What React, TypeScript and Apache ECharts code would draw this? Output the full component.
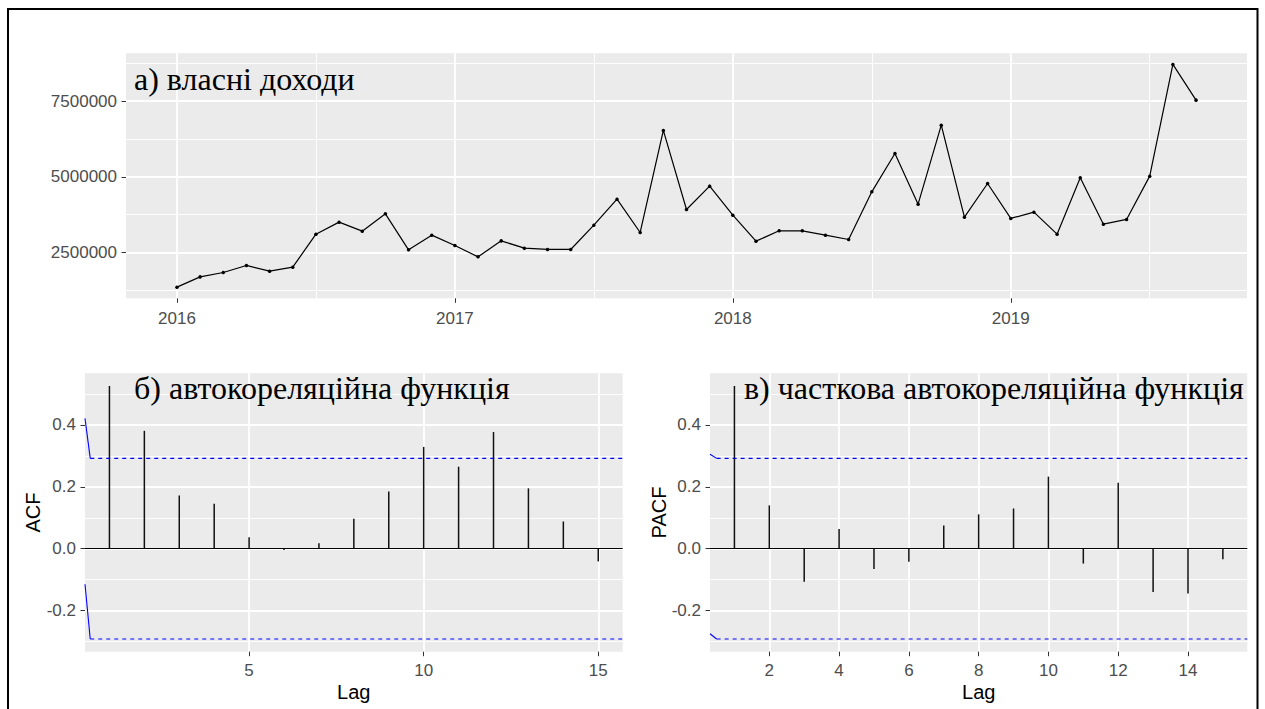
import React, { useEffect, useRef } from "react";
import * as echarts from "echarts";

// ---------- data ----------
const startYear = 2016;
const ownIncome = [
  1354000, 1694000, 1839000, 2071000, 1882000, 2015000, 3104000, 3501000, 3203000, 3775000, 2586000, 3071000,
  2731000, 2355000, 2883000, 2642000, 2599000, 2599000, 3402000, 4260000, 3160000, 6529000, 3920000, 4690000,
  3732000, 2873000, 3215000, 3215000, 3071000, 2929000, 4502000, 5769000, 4095000, 6704000, 3666000, 4778000,
  3623000, 3831000, 3104000, 4964000, 3435000, 3590000, 5020000, 8709000, 7530000,
];
const yearTicks = [2016, 2017, 2018, 2019];
const yearMinorTicks = [2016.5, 2017.5, 2018.5, 2019.5];
const incomeTicks = [2500000, 5000000, 7500000];
const incomeMinorTicks = [1250000, 3750000, 6250000, 8750000];

const lags = [1, 2, 3, 4, 5, 6, 7, 8, 9, 10, 11, 12, 13, 14, 15];
const acfValues = [0.526, 0.381, 0.172, 0.145, 0.037, -0.004, 0.018, 0.097, 0.185, 0.329, 0.265, 0.377, 0.195, 0.088, -0.041];
const pacfValues = [0.526, 0.14, -0.107, 0.064, -0.066, -0.042, 0.075, 0.111, 0.13, 0.233, -0.048, 0.213, -0.14, -0.145, -0.034];
const ciLimit = 0.292;
const acfLagTicks = [5, 10, 15];
const pacfLagTicks = [2, 4, 6, 8, 10, 12, 14];
const corrTicks = [-0.2, 0.0, 0.2, 0.4];
const corrMinorTicks = [-0.3, -0.1, 0.1, 0.3, 0.5];
// blue confidence-band start pieces (solid) [lag, value]
const acfCiUpperStart = [[0.3, 0.421], [0.45, 0.292]];
const acfCiLowerStart = [[0.3, -0.115], [0.45, -0.292]];
const pacfCiUpperStart = [[0.3, 0.305], [0.49, 0.292]];
const pacfCiLowerStart = [[0.3, -0.275], [0.49, -0.292]];

const titleA = "а) власні доходи";
const titleB = "б) автокореляційна функція";
const titleC = "в) часткова автокореляційна функція";

// ---------- helpers ----------
const SANS = "'Liberation Sans', Arial, Helvetica, sans-serif";
const SERIF = "'Liberation Serif', 'Times New Roman', serif";
const PANEL = "#EBEBEB";
const LABEL = "#4D4D4D";

function expand(min: number, max: number) {
  const r = max - min;
  return [min - 0.05 * r, max + 0.05 * r];
}

function majorAxis(gridIndex: number, min: number, max: number, ticks: number[], fmt: (v: number) => string, margin: number) {
  return {
    type: "value",
    gridIndex,
    min,
    max,
    axisLine: { show: false, onZero: false },
    axisTick: { show: true, length: 4.5, customValues: ticks, lineStyle: { color: "#333333", width: 1 } },
    axisLabel: {
      show: true,
      customValues: ticks,
      formatter: fmt,
      color: LABEL,
      fontSize: 17,
      fontFamily: SANS,
      margin,
    },
    splitLine: { show: true, lineStyle: { color: "#FFFFFF", width: 1.8 } },
  };
}

function minorAxis(gridIndex: number, min: number, max: number, ticks: number[], position: string) {
  return {
    type: "value",
    gridIndex,
    min,
    max,
    position,
    axisLine: { show: false, onZero: false },
    axisTick: { show: false, customValues: ticks },
    axisLabel: { show: false, customValues: ticks },
    splitLine: { show: true, lineStyle: { color: "#FFFFFF", width: 0.9 } },
  };
}

export default function App() {
  const ref = useRef<HTMLDivElement>(null);

  useEffect(() => {
    document.body.style.margin = "0";
    if (!ref.current) return;
    const chart = echarts.init(ref.current, undefined, { renderer: "svg" });

    const times = ownIncome.map((_, i) => startYear + i / 12);
    const [xMin, xMax] = expand(times[0], times[times.length - 1]);
    const [yMin, yMax] = expand(Math.min(...ownIncome), Math.max(...ownIncome));
    const [lagMin, lagMax] = expand(lags[0], lags[lags.length - 1]);
    const allCorr = [...acfValues, ...pacfValues, ciLimit, -ciLimit];
    const [cMin, cMax] = expand(Math.min(...allCorr), Math.max(...allCorr));

    const incomeData = times.map((t, i) => [t, ownIncome[i]]);
    const acfData = lags.map((l, i) => [l, acfValues[i]]);
    const pacfData = lags.map((l, i) => [l, pacfValues[i]]);

    const corrFmt = (v: number) => v.toFixed(1);

    const stem = (name: string, data: number[][], xi: number, yi: number) => ({
      name,
      type: "bar",
      xAxisIndex: xi,
      yAxisIndex: yi,
      data,
      barWidth: 1.5,
      itemStyle: { color: "#111111" },
      z: 3,
      markLine: {
        silent: true,
        symbol: "none",
        label: { show: false },
        lineStyle: { color: "#000000", width: 1, type: "solid" },
        data: [{ yAxis: 0 }],
      },
    });
    const ciLine = (data: number[][], xi: number, yi: number, dashed: boolean) => ({
      type: "line",
      xAxisIndex: xi,
      yAxisIndex: yi,
      data,
      symbol: "none",
      silent: true,
      z: 4,
      lineStyle: { color: "#0000FF", width: 1.1, type: dashed ? [4, 4] : "solid" },
    });

    chart.setOption({
      animation: false,
      backgroundColor: "#FFFFFF",
      textStyle: { fontFamily: SANS },
      grid: [
        { left: 126, top: 53.3, width: 1121, height: 245, show: true, backgroundColor: PANEL, borderWidth: 0 },
        { left: 85, top: 373.3, width: 537.7, height: 278.4, show: true, backgroundColor: PANEL, borderWidth: 0 },
        { left: 710, top: 373.3, width: 537.3, height: 278.4, show: true, backgroundColor: PANEL, borderWidth: 0 },
      ],
      xAxis: [
        majorAxis(0, xMin, xMax, yearTicks, (v: number) => String(Math.round(v)), 12),
        minorAxis(0, xMin, xMax, yearMinorTicks, "top"),
        majorAxis(1, lagMin, lagMax, acfLagTicks, (v: number) => String(v), 10),
        majorAxis(2, lagMin, lagMax, pacfLagTicks, (v: number) => String(v), 10),
      ],
      yAxis: [
        majorAxis(0, yMin, yMax, incomeTicks, (v: number) => String(Math.round(v)), 9),
        minorAxis(0, yMin, yMax, incomeMinorTicks, "right"),
        majorAxis(1, cMin, cMax, corrTicks, corrFmt, 9),
        minorAxis(1, cMin, cMax, corrMinorTicks, "right"),
        majorAxis(2, cMin, cMax, corrTicks, corrFmt, 9),
        minorAxis(2, cMin, cMax, corrMinorTicks, "right"),
      ],
      series: [
        {
          name: "власні доходи",
          type: "line",
          xAxisIndex: 0,
          yAxisIndex: 0,
          data: incomeData,
          symbol: "circle",
          symbolSize: 3.5,
          itemStyle: { color: "#000000" },
          lineStyle: { color: "#000000", width: 1.2 },
          z: 3,
        },
        stem("ACF", acfData, 2, 2),
        ciLine(acfCiUpperStart, 2, 2, false),
        ciLine(acfCiLowerStart, 2, 2, false),
        ciLine([[acfCiUpperStart[1][0], ciLimit], [lagMax, ciLimit]], 2, 2, true),
        ciLine([[acfCiLowerStart[1][0], -ciLimit], [lagMax, -ciLimit]], 2, 2, true),
        stem("PACF", pacfData, 3, 4),
        ciLine(pacfCiUpperStart, 3, 4, false),
        ciLine(pacfCiLowerStart, 3, 4, false),
        ciLine([[pacfCiUpperStart[1][0], ciLimit], [lagMax, ciLimit]], 3, 4, true),
        ciLine([[pacfCiLowerStart[1][0], -ciLimit], [lagMax, -ciLimit]], 3, 4, true),
      ],
      graphic: [
        {
          type: "rect",
          shape: { x: 8, y: 9, width: 1249.5, height: 720 },
          style: { fill: "none", stroke: "#000000", lineWidth: 2 },
          silent: true,
          z: 10,
        },
        { type: "text", x: 134, y: 79, style: { text: titleA, font: `32px ${SERIF}`, fill: "#000000", verticalAlign: "middle", align: "left" }, z: 10 },
        { type: "text", x: 134, y: 388, style: { text: titleB, font: `32px ${SERIF}`, fill: "#000000", verticalAlign: "middle", align: "left" }, z: 10 },
        { type: "text", x: 744, y: 388, style: { text: titleC, font: `32px ${SERIF}`, fill: "#000000", verticalAlign: "middle", align: "left" }, z: 10 },
        { type: "text", x: 353.8, y: 692, style: { text: "Lag", font: `20px ${SANS}`, fill: "#000000", verticalAlign: "middle", align: "center" }, z: 10 },
        { type: "text", x: 978.7, y: 692, style: { text: "Lag", font: `20px ${SANS}`, fill: "#000000", verticalAlign: "middle", align: "center" }, z: 10 },
        { type: "text", x: 33, y: 512.5, rotation: Math.PI / 2, style: { text: "ACF", font: `20px ${SANS}`, fill: "#000000", verticalAlign: "middle", align: "center" }, z: 10 },
        { type: "text", x: 659, y: 512.5, rotation: Math.PI / 2, style: { text: "PACF", font: `20px ${SANS}`, fill: "#000000", verticalAlign: "middle", align: "center" }, z: 10 },
      ],
    });

    return () => {
      chart.dispose();
    };
  }, []);

  return <div ref={ref} style={{ width: 1265, height: 709 }} />;
}
